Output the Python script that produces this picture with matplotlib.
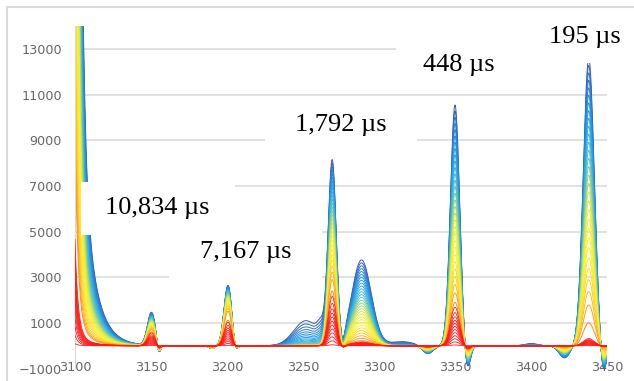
import numpy as np
import matplotlib
matplotlib.use("Agg")
import matplotlib.pyplot as plt
from matplotlib.colors import LinearSegmentedColormap
from matplotlib.patches import Rectangle
from matplotlib.lines import Line2D

# ==========================
# data
# ==========================
x = np.arange(3100, 3450.25, 0.25)

# band groups, each one grows with its own pace over the traces
# 0:3100 tail  1:3150  2:3200  3:3268  4:3290  5:3350  6:3440  7:late (shoulder / noise)
group_red_top = [0.04, 0.39, 0.39, 0.27, 0.045, 0.16, 0.025, 0.0]
group_warm_start = [0.08, 0.42, 0.42, 0.30, 0.06, 0.18, 0.08, 0.0]
group_pace = [1.2, 0.63, 0.40, 0.72, 1.05, 0.9, 0.8, 4.0]

# strong band that starts left of 3100 (two decay parts)
tail_amps = [102000, 14800]
tail_lengths = [2.0, 8.0]

# gaussian bands of the last (blue) trace: centre, sigma, height, group
band_centres = [3150.3, 3200.7, 3269.2, 3288.5, 3350.0, 3438.0, 3252.0, 3262.0, 3315.0, 3400.0]
band_sigmas = [2.6, 2.6, 2.6, 6.4, 3.0, 3.55, 8.0, 2.5, 8.0, 4.0]
band_heights = [1440, 2660, 8000, 3760, 10550, 12600, 1100, 600, 180, 100]
band_groups = [1, 2, 3, 4, 5, 6, 7, 7, 7, 7]

# negative dips next to the bands
dip_centres = [3155.0, 3205.0, 3190.0, 3276.0, 3332.0, 3358.0, 3422.0, 3447.5]
dip_sigmas = [1.3, 1.6, 2.0, 1.6, 3.5, 2.0, 3.5, 2.0]
dip_depths = [-490, -490, -120, -490, -360, -1100, -530, -1300]
dip_groups = [1, 2, 2, 3, 5, 5, 6, 6]

# red (early) traces, as share of each group's red level
red_levels = [0.02, 0.1, 0.18, 0.26, 0.34, 0.42, 0.5, 0.58, 0.66, 0.75, 0.86, 1.0]
n_colour_traces = 30

y_ticks = [-1000, 1000, 3000, 5000, 7000, 9000, 11000, 13000]
x_ticks = [3100, 3150, 3200, 3250, 3300, 3350, 3400, 3450]

labels = ["10,834 µs", "7,167 µs", "1,792 µs", "448 µs", "195 µs"]
# label boxes in pixels: left, top, right, bottom, text centre x, text centre y
label_boxes = [
    (81, 182, 235, 235, 157, 208),
    (169, 222, 322, 282, 246, 252),
    (265, 100, 417, 158, 341, 125),
    (396, 18, 530, 90, 459, 65),
    (530, 12, 625, 63, 585, 37),
]

# ==========================
# group profiles
# ==========================
n_groups = len(group_pace)
profiles = np.zeros((n_groups, x.size))
for a, l in zip(tail_amps, tail_lengths):
    profiles[0] += a * np.exp(-(x - 3100) / l)
for c, s, h, g in zip(band_centres, band_sigmas, band_heights, band_groups):
    profiles[g] += h * np.exp(-0.5 * ((x - c) / s) ** 2)
for c, s, h, g in zip(dip_centres, dip_sigmas, dip_depths, dip_groups):
    profiles[g] += h * np.exp(-0.5 * ((x - c) / s) ** 2)

red_top = np.array(group_red_top)
warm = np.array(group_warm_start)
pace = np.array(group_pace)

cmap = LinearSegmentedColormap.from_list("spec", [
    (0.0, "#FF8A1A"), (0.1, "#FFCF1F"), (0.22, "#FFF22E"), (0.36, "#E2EE3E"),
    (0.46, "#A6D76C"), (0.56, "#5FC4B4"), (0.66, "#34B3E6"), (0.8, "#2196E6"),
    (0.92, "#2A78D2"), (1.0, "#3B58B2"),
])

# ==========================
# figure
# ==========================
W, H = 634, 381
fig = plt.figure(figsize=(W / 100, H / 100), dpi=100)
fig.patch.set_facecolor("white")
ax = fig.add_axes([75 / W, 12.4 / H, 532 / W, (368.6 - 26.2) / H])
ax.set_xlim(3100, 3450)
ax.set_ylim(-1000, 14000)

for v in y_ticks[1:]:
    ax.axhline(v, color="#D9D9D9", lw=1.1, zorder=0)

# later (blue) traces first, red ones on top
for u in np.linspace(1, 0, n_colour_traces):
    frac = warm + (1 - warm) * u ** pace
    ax.plot(x, frac @ profiles, color=cmap(u), lw=0.7, zorder=2)
for r in red_levels[::-1]:
    frac = red_top * r
    ax.plot(x, frac @ profiles, color="#FF1A1A", lw=0.6, zorder=3)

for side in ["top", "right", "bottom"]:
    ax.spines[side].set_visible(False)
ax.spines["left"].set_color("#D9D9D9")
ax.set_yticks(y_ticks)
ax.set_xticks(x_ticks)
ax.tick_params(axis="both", length=0, labelsize=9.2, labelcolor="#666666")
ax.tick_params(axis="y", pad=9.5)
ax.tick_params(axis="x", pad=-5.5)

# outer chart border
fig.add_artist(Line2D([7 / W, 1], [1 - 7 / H, 1 - 7 / H], color="#D9D9D9", lw=1.5))
fig.add_artist(Line2D([7 / W, 7 / W], [0, 1 - 7 / H], color="#D9D9D9", lw=1.5))

# white label boxes
for text, (l, t, r, b, tx, ty) in zip(labels, label_boxes):
    fig.add_artist(Rectangle((l / W, 1 - b / H), (r - l) / W, (b - t) / H,
                             transform=fig.transFigure, facecolor="white",
                             edgecolor="none", zorder=5))
    fig.text(tx / W, 1 - ty / H, text, ha="center", va="center", fontsize=19,
             family="Liberation Serif", color="black", zorder=6)

fig.savefig("out.png", dpi=100)
